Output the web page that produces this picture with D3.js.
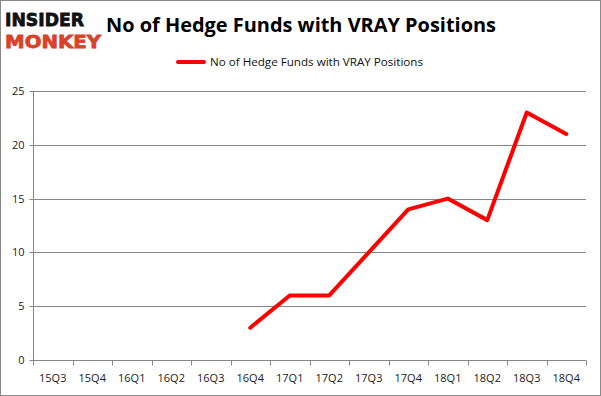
<!DOCTYPE html>
<html>
<head>
<meta charset="utf-8">
<script src="https://cdn.jsdelivr.net/npm/d3@7"></script>
<style>
  body { margin: 0; background: #fff; }
  svg { display: block; }
</style>
</head>
<body>
<div id="chart"></div>
<script>
// Data
const quarters = ["15Q3", "15Q4", "16Q1", "16Q2", "16Q3", "16Q4", "17Q1", "17Q2", "17Q3", "17Q4", "18Q1", "18Q2", "18Q3", "18Q4"];
const fundCounts = [null, null, null, null, null, 3, 6, 6, 10, 14, 15, 13, 23, 21];
const yTicks = [0, 5, 10, 15, 20, 25];
const seriesName = "No of Hedge Funds with VRAY Positions";

const width = 601, height = 396;
const margin = { top: 91, right: 15, bottom: 36, left: 33 };

const svg = d3.select("#chart").append("svg")
    .attr("width", width)
    .attr("height", height);

// outer frame
svg.append("rect")
    .attr("x", 0.5).attr("y", 0.5)
    .attr("width", width - 1).attr("height", height - 1)
    .attr("fill", "#fff")
    .attr("stroke", "#898989");

const x = d3.scaleBand()
    .domain(quarters)
    .range([margin.left, width - margin.right]);

const y = d3.scaleLinear()
    .domain([0, 25])
    .range([height - margin.bottom, margin.top]);

// grid lines
svg.append("g")
    .selectAll("line")
    .data(yTicks.slice(1))
    .join("line")
    .attr("x1", margin.left)
    .attr("x2", width - margin.right)
    .attr("y1", d => Math.round(y(d)) + 0.5)
    .attr("y2", d => Math.round(y(d)) + 0.5)
    .attr("stroke", "#868686");

// Y axis
svg.append("g")
    .attr("transform", `translate(${margin.left + 0.5},0)`)
    .call(d3.axisLeft(y).tickValues(yTicks).tickSize(4).tickPadding(5))
    .call(g => g.select(".domain").attr("stroke", "#868686").attr("d", `M0,${y(0)}V${y(25)}`))
    .call(g => g.selectAll(".tick line").attr("stroke", "#868686"))
    .call(g => g.selectAll(".tick").attr("transform", d => `translate(0,${Math.round(y(d)) + 0.5})`))
    .selectAll("text")
    .style("font-family", "Open Sans, sans-serif")
    .style("font-size", "11px")
    .attr("fill", "#222");

// X axis
const xAxis = svg.append("g")
    .attr("transform", `translate(0,${Math.round(y(0)) + 0.5})`);

xAxis.append("line")
    .attr("x1", margin.left).attr("x2", width - margin.right)
    .attr("stroke", "#868686");

xAxis.selectAll(".sep")
    .data(quarters.concat([null]))
    .join("line")
    .attr("class", "sep")
    .attr("x1", (d, i) => Math.round(margin.left + i * x.step()) + 0.5)
    .attr("x2", (d, i) => Math.round(margin.left + i * x.step()) + 0.5)
    .attr("y1", 0).attr("y2", 5)
    .attr("stroke", "#868686");

xAxis.selectAll(".lbl")
    .data(quarters)
    .join("text")
    .attr("class", "lbl")
    .attr("x", d => x(d) + x.bandwidth() / 2)
    .attr("y", 21)
    .attr("text-anchor", "middle")
    .style("font-family", "Open Sans, sans-serif")
    .style("font-size", "11px")
    .attr("fill", "#222")
    .text(d => d);

// line
const line = d3.line()
    .defined(d => d[1] != null)
    .x(d => x(d[0]) + x.bandwidth() / 2)
    .y(d => y(d[1]));

svg.append("path")
    .datum(quarters.map((q, i) => [q, fundCounts[i]]))
    .attr("d", line)
    .attr("fill", "none")
    .attr("stroke", "#ff0000")
    .attr("stroke-width", 4)
    .attr("stroke-linejoin", "round")
    .attr("stroke-linecap", "round");

// title
svg.append("text")
    .attr("x", 106)
    .attr("y", 32)
    .attr("textLength", 390)
    .attr("lengthAdjust", "spacingAndGlyphs")
    .style("font-family", "Open Sans, sans-serif")
    .style("font-weight", "bold")
    .style("font-size", "20px")
    .attr("fill", "#000")
    .text(seriesName);

// legend
svg.append("line")
    .attr("x1", 178).attr("x2", 204)
    .attr("y1", 62).attr("y2", 62)
    .attr("stroke", "#ff0000")
    .attr("stroke-width", 4)
    .attr("stroke-linecap", "round");

svg.append("text")
    .attr("x", 210)
    .attr("y", 66)
    .attr("textLength", 213)
    .attr("lengthAdjust", "spacingAndGlyphs")
    .style("font-family", "Open Sans, sans-serif")
    .style("font-size", "11.5px")
    .attr("fill", "#111")
    .text(seriesName);

// logo
svg.append("text")
    .attr("x", 5).attr("y", 26)
    .attr("textLength", 79)
    .attr("lengthAdjust", "spacingAndGlyphs")
    .style("font-family", "DejaVu Sans, sans-serif")
    .style("font-weight", "900")
    .style("font-size", "18px")
    .attr("fill", "#111")
    .attr("stroke", "#111")
    .attr("stroke-width", 0.8)
    .text("INSIDER");

svg.append("text")
    .attr("x", 5).attr("y", 48)
    .attr("textLength", 96)
    .attr("lengthAdjust", "spacingAndGlyphs")
    .style("font-family", "DejaVu Sans, sans-serif")
    .style("font-weight", "900")
    .style("font-size", "18px")
    .attr("fill", "#d9412c")
    .attr("stroke", "#d9412c")
    .attr("stroke-width", 0.8)
    .text("MONKEY");
</script>
</body>
</html>
